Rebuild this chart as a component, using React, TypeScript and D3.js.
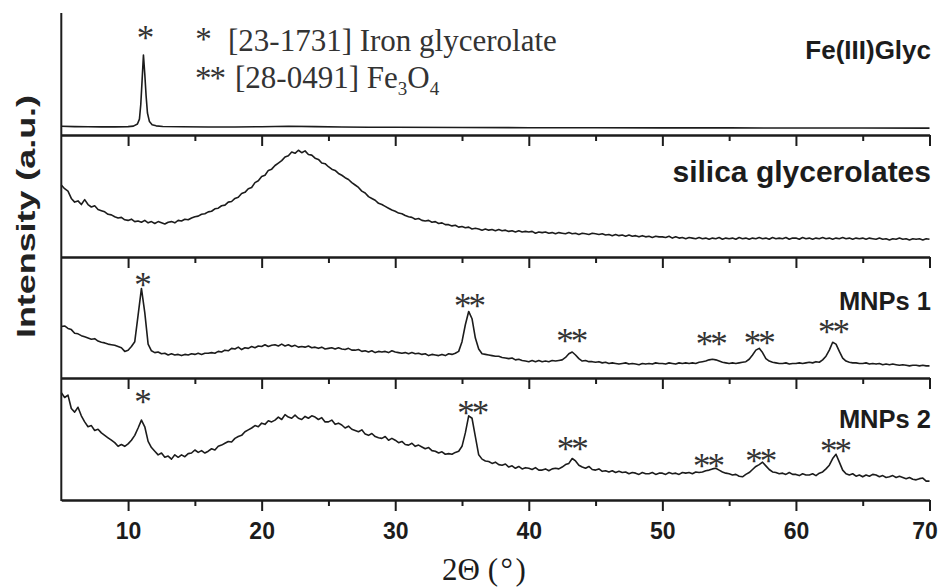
import React, { useEffect, useRef } from "react";
import * as d3 from "d3";

// patterns sampled every 0.25 deg from 5 to 70 (2-theta)
const START = 5;
const STEP = 0.25;

// Fe(III) glycerolate, smooth trace -> own sampling
const feGlycTheta = [5, 6, 7, 8, 9, 10, 10.4, 10.7, 10.85, 10.95, 11.05, 11.15, 11.25, 11.35, 11.45, 11.6, 11.8, 12.1, 12.6, 14, 16, 18, 20, 22, 24, 26, 28, 30, 35, 40, 45, 50, 55, 60, 65, 70];
const feGlycIntensity = [7.2, 6.9, 6.8, 6.7, 6.7, 6.9, 7.3, 9, 13, 25, 45, 65.5, 50, 32, 18, 11, 8.4, 7.5, 7, 6.8, 6.6, 6.6, 6.8, 7.2, 6.9, 6.6, 6.4, 6.3, 6.1, 6, 5.9, 5.8, 5.8, 5.7, 5.7, 5.6];

const silicaIntensity = [
  59, 56, 54, 48,
  45, 46, 43, 47,
  43, 41, 42, 39,
  38, 37, 35, 34.5,
  33, 32, 32.5, 30.5,
  30, 31, 29, 29.5,
  28.5, 30, 28, 29,
  27.5, 29, 28, 27,
  28.5, 29, 28, 30,
  29.5, 31, 30.5, 32,
  33, 33.5, 35, 35.5,
  37, 37.5, 39.5, 40,
  42, 42.5, 45, 45.5,
  48, 49, 52, 53,
  56, 57, 61, 62.5,
  66, 67, 71, 72,
  75, 77, 79, 82,
  83, 86, 85, 87.5,
  85.5, 87, 84, 83.5,
  81, 80, 77, 76.5,
  74, 72, 71, 68.5,
  67, 65, 63.5, 61,
  59, 57, 54, 52.5,
  49.5, 48, 46.5, 44,
  43, 41.5, 40, 38.5,
  37.5, 36, 35.5, 34,
  33, 32.5, 31, 31.5,
  30, 29.5, 30, 28.5,
  29, 27.5, 28, 26.5,
  26.5, 25.5, 26, 24.5,
  25, 24, 24.5, 23,
  23.5, 23, 22, 23,
  22, 22.5, 21.5, 22.5,
  21.5, 22, 21, 21.5,
  20.5, 21.5, 20.5, 21,
  20.5, 21, 19.5, 20.5,
  20, 20.5, 19.5, 20,
  19, 20, 19.5, 19,
  20, 19, 19.5, 18.5,
  19.5, 19, 18.5, 19.5,
  19, 18.5, 19, 18,
  18.5, 17.5, 18.5, 17.5,
  18, 17, 18, 17,
  17.5, 16.5, 17.5, 16.5,
  17, 16, 17, 16.5,
  16.5, 16, 17, 15.5,
  16.5, 15.5, 16, 15,
  16, 15.5, 15, 16,
  15, 15.5, 14.5, 15.5,
  15, 16, 14.5, 15.5,
  15, 15.5, 14.5, 16,
  15, 15.5, 14.5, 15.5,
  15, 16, 15, 15.5,
  14.5, 16, 15, 15.5,
  15, 16, 14.5, 15.5,
  15.5, 14.5, 16, 15,
  15.5, 14.5, 15.5, 15,
  16, 15, 15.5, 14.5,
  15.5, 15, 16, 15,
  15.5, 14.5, 15.5, 15,
  15.5, 14.5, 15.5, 15,
  14.5, 15.5, 14.5, 15,
  14, 15, 14.5, 15.5,
  14.5, 15, 14, 15,
  14.5, 15, 14, 15,
  14.5,
];

const mnps1Intensity = [
  42.5, 43, 41, 40,
  37, 36.5, 35, 34,
  33, 32, 32.5, 30.5,
  29.5, 29, 28, 27.5,
  27, 26, 25, 22,
  23, 26, 30, 52,
  74, 54, 28, 22.5,
  21, 21.5, 20, 20.5,
  19, 20, 19, 19.5,
  18.5, 19.5, 19, 20,
  19.5, 20.5, 19.5, 20.5,
  20.5, 21, 20.5, 22,
  21.5, 23, 22.5, 24.5,
  24, 25.5, 23.5, 25,
  24.5, 26, 25, 26.5,
  26, 27.5, 26, 27,
  27.5, 26.5, 28, 26.5,
  27.5, 26, 27, 25.5,
  26, 25.5, 26.5, 25,
  25.5, 24.5, 25.5, 24,
  24.5, 25, 24, 25,
  24, 23.5, 24.5, 23,
  23, 23.5, 22, 22.5,
  21.5, 22.5, 21, 22,
  21.5, 22, 21, 22.5,
  21.5, 21, 20.5, 21,
  20, 21, 20, 20.5,
  19.5, 20, 18.5, 19.5,
  19, 18.5, 19.5, 18.5,
  20, 19.5, 20.5, 22,
  30, 44, 55, 49,
  33, 24, 20, 19.5,
  19, 18.5, 18, 18,
  17, 16.5, 16, 16.5,
  15, 15.5, 14.5, 14,
  13.5, 14.5, 13.5, 14.5,
  13.5, 14, 13.5, 14.5,
  14, 14.5, 15, 17,
  20, 21.5, 19, 16,
  14, 14.5, 13.5, 13.5,
  13, 13.5, 12.5, 13,
  12, 12.5, 12, 11.5,
  12, 12.5, 11.5, 12,
  11.5, 11, 12, 11.5,
  12, 11.5, 12.5, 12,
  12, 11.5, 12.5, 12,
  11.5, 12.5, 12, 12.5,
  12, 12.5, 12, 13,
  13.5, 14, 15, 15.5,
  15, 14, 13, 12.5,
  12, 12.5, 12, 12.5,
  13, 13.5, 15.5, 19,
  23, 24.5, 21, 16,
  14, 13, 12.5, 12,
  12, 12.5, 11.5, 12,
  12, 12.5, 12, 12.5,
  13, 12.5, 13.5, 13,
  15, 18, 23, 29.5,
  28, 22, 16.5, 14,
  13, 12.5, 12.5, 12,
  12, 12.5, 11.5, 12,
  11.5, 12, 11, 11.5,
  11, 11.5, 11, 10.5,
  11, 10.5, 10, 10.5,
  10.5, 10, 10.5, 10,
  10,
];

const mnps2Intensity = [
  88, 84, 86, 75,
  72, 76, 69, 64,
  60, 61, 57, 58,
  55, 53, 51, 49,
  47, 44, 45.5, 44,
  46, 49, 53, 59,
  65.5, 60, 48, 43,
  40, 37, 38.5, 35,
  36, 33.5, 37, 35,
  37, 35.5, 38, 38.5,
  41, 39, 40.5, 38.5,
  40, 42, 41, 44,
  45, 46.5, 48, 47.5,
  50.5, 52, 53, 56,
  57.5, 59, 61, 60,
  63, 62, 65, 64,
  65.5, 68, 66, 70,
  68, 67, 69.5, 67,
  66, 68.5, 67, 69,
  68, 66, 67.5, 64,
  64, 65.5, 62, 63,
  61.5, 59, 60.5, 58,
  57, 56, 57.5, 54,
  53, 54.5, 52, 51,
  50.5, 52, 49, 50.5,
  49, 47, 48, 45.5,
  45, 46.5, 44, 45,
  43.5, 42, 43, 40.5,
  40, 38.5, 39.5, 37.5,
  38, 37.5, 39, 40,
  44, 55, 69, 67,
  52, 37, 33.5, 32,
  31.5, 30, 31, 29,
  28.5, 29.5, 27, 28,
  26, 27.5, 25.5, 26.5,
  26, 25, 26.5, 24.5,
  24.5, 25.5, 24, 25.5,
  26, 25.5, 27, 29,
  30, 34, 32, 28.5,
  27, 26, 27.5, 25,
  24.5, 25.5, 23.5, 24,
  23, 24, 22.5, 23.5,
  22.5, 23, 21.5, 22.5,
  22, 21, 22.5, 21.5,
  21.5, 22.5, 21, 22,
  22, 21, 22.5, 21.5,
  22, 21, 22.5, 22,
  22.5, 21.5, 23, 22.5,
  23, 24, 24.5, 25.5,
  26, 24.5, 23, 22,
  21.5, 20.5, 21, 19.5,
  19, 21, 22.5, 25,
  27.5, 29, 31, 28,
  25, 23, 22.5, 21.5,
  22, 21, 22.5, 21,
  21, 20, 21.5, 20.5,
  20.5, 21.5, 20, 22,
  23, 25.5, 28.5, 34,
  37.5, 31, 24.5, 21.5,
  20.5, 21.5, 19.5, 20.5,
  19, 20.5, 19.5, 21,
  20.5, 19, 20, 18.5,
  19, 20, 18.5, 19.5,
  18.5, 17.5, 18.5, 17,
  16.5, 17.5, 18, 15.5,
  15.5,
];

const panelNames = ["Fe(III)Glyc", "silica glycerolates", "MNPs 1", "MNPs 2"];

const majorTicks = [10, 20, 30, 40, 50, 60, 70];
const minorTicks = [15, 25, 35, 45, 55, 65];

// peak markers: theta, level inside panel (0-100), symbol
const feGlycMarks: [number, number, string][] = [[11.2, 83.6, "*"]];
const silicaMarks: [number, number, string][] = [];
const mnps1Marks: [number, number, string][] = [
  [11.0, 81, "*"], [35.6, 63.6, "**"], [43.25, 34.7, "**"], [53.7, 32.2, "**"], [57.3, 33, "**"], [62.85, 42.1, "**"],
];
const mnps2Marks: [number, number, string][] = [
  [11.0, 84.4, "*"], [35.85, 75.8, "**"], [43.3, 45.9, "**"], [53.5, 32, "**"], [57.4, 36, "**"], [63.0, 44.3, "**"],
];

const onGrid = (vals: number[]): [number, number][] => vals.map((v, i) => [START + i * STEP, v]);

const W = 939;
const H = 587;
const SANS = "'Liberation Sans', Arial, sans-serif";
const SERIF = "'Liberation Serif', 'Times New Roman', serif";
const INK = "#1c1c1c";

const App = () => {
  const svgRef = useRef<SVGSVGElement>(null);

  useEffect(() => {
    const svg = d3.select(svgRef.current);
    svg.selectAll("*").remove();

    const x = d3.scaleLinear().domain([5, 70]).range([61.3, 929.5]);

    const panels = [
      { top: 13, bottom: 135, pts: feGlycTheta.map((t, i) => [t, feGlycIntensity[i]] as [number, number]), marks: feGlycMarks },
      { top: 135, bottom: 257, pts: onGrid(silicaIntensity), marks: silicaMarks },
      { top: 257, bottom: 378, pts: onGrid(mnps1Intensity), marks: mnps1Marks },
      { top: 378, bottom: 500, pts: onGrid(mnps2Intensity), marks: mnps2Marks },
    ];
    const labelStyle = [
      { size: 26, base: 59 },
      { size: 30, base: 182 },
      { size: 25.5, base: 310 },
      { size: 25.5, base: 428 },
    ];

    panels.forEach((p, k) => {
      const y = d3.scaleLinear().domain([0, 100]).range([p.bottom, p.top]);
      const line = d3
        .line<[number, number]>()
        .x((d) => x(d[0]))
        .y((d) => y(d[1]));

      svg
        .append("path")
        .datum(p.pts)
        .attr("d", line)
        .attr("fill", "none")
        .attr("stroke", INK)
        .attr("stroke-width", 1.6)
        .attr("stroke-linejoin", "round");

      // peak markers
      svg
        .append("g")
        .selectAll("text")
        .data(p.marks)
        .enter()
        .append("text")
        .attr("x", (d) => x(d[0]) + (d[2].length > 1 ? -1.5 : 0))
        .attr("y", (d) => y(d[1]) + 17)
        .attr("text-anchor", "middle")
        .attr("font-family", SERIF)
        .attr("font-size", 35)
        .attr("letter-spacing", -3)
        .attr("fill", "#333")
        .text((d) => d[2]);

      // sample name
      svg
        .append("text")
        .attr("x", 931)
        .attr("y", labelStyle[k].base)
        .attr("text-anchor", "end")
        .attr("font-family", SANS)
        .attr("font-weight", "bold")
        .attr("font-size", labelStyle[k].size)
        .attr("fill", INK)
        .text(panelNames[k]);

      const isLast = k === panels.length - 1;
      const major = svg
        .append("g")
        .attr("transform", `translate(0,${p.bottom})`)
        .call(
          d3
            .axisBottom(x)
            .tickValues(majorTicks)
            .tickSize(11)
            .tickSizeOuter(0)
            .tickPadding(12)
            .tickFormat(isLast ? (d) => String(d) : () => "")
        );
      const minor = svg
        .append("g")
        .attr("transform", `translate(0,${p.bottom})`)
        .call(d3.axisBottom(x).tickValues(minorTicks).tickSize(6).tickSizeOuter(0).tickFormat(() => ""));

      [major, minor].forEach((g) => {
        g.select(".domain").attr("stroke", INK).attr("stroke-width", 2);
        g.selectAll(".tick line").attr("stroke", INK).attr("stroke-width", 2);
      });
      major
        .selectAll(".tick text")
        .attr("font-family", SANS)
        .attr("font-weight", "bold")
        .attr("font-size", 23)
        .attr("fill", INK);
      // last label is pulled in so it stays on the page
      major
        .selectAll<SVGTextElement, number>(".tick text")
        .filter((d) => d === 70)
        .attr("x", -5);
    });

    // left axis
    svg
      .append("line")
      .attr("x1", 61.3)
      .attr("x2", 61.3)
      .attr("y1", 13)
      .attr("y2", 501)
      .attr("stroke", INK)
      .attr("stroke-width", 2);

    // axis titles
    svg
      .append("text")
      .attr("transform", "translate(35,216.5) rotate(-90)")
      .attr("text-anchor", "middle")
      .attr("font-family", SANS)
      .attr("font-weight", "bold")
      .attr("font-size", 26)
      .attr("textLength", 243)
      .attr("lengthAdjust", "spacingAndGlyphs")
      .attr("fill", "#222")
      .text("Intensity (a.u.)");

    svg
      .append("text")
      .attr("x", 442)
      .attr("y", 580)
      .attr("font-family", SERIF)
      .attr("font-size", 31)
      .attr("fill", INK)
      .text("2\u0398 (\u200a\u00b0\u200a)");

    // legend
    const legend = svg.append("g").attr("font-family", SERIF).attr("font-size", 31).attr("fill", "#333");
    legend.append("text").attr("x", 203.5).attr("y", 50).attr("text-anchor", "middle").attr("font-size", 33).text("*");
    legend.append("text").attr("x", 228).attr("y", 51).text("[23-1731] Iron glycerolate");
    legend
      .append("text")
      .attr("x", 209.5)
      .attr("y", 89)
      .attr("text-anchor", "middle")
      .attr("font-size", 33)
      .attr("letter-spacing", -2)
      .text("**");
    const l2 = legend.append("text").attr("x", 235).attr("y", 88);
    l2.append("tspan").text("[28-0491] Fe");
    l2.append("tspan").attr("font-size", 19).attr("dy", 7).text("3");
    l2.append("tspan").attr("dy", -7).text("O");
    l2.append("tspan").attr("font-size", 19).attr("dy", 7).text("4");
  }, []);

  return (
    <svg
      ref={svgRef}
      width={W}
      height={H}
      style={{ position: "absolute", left: 0, top: 0, background: "#fff" }}
    ></svg>
  );
};

export default App;
